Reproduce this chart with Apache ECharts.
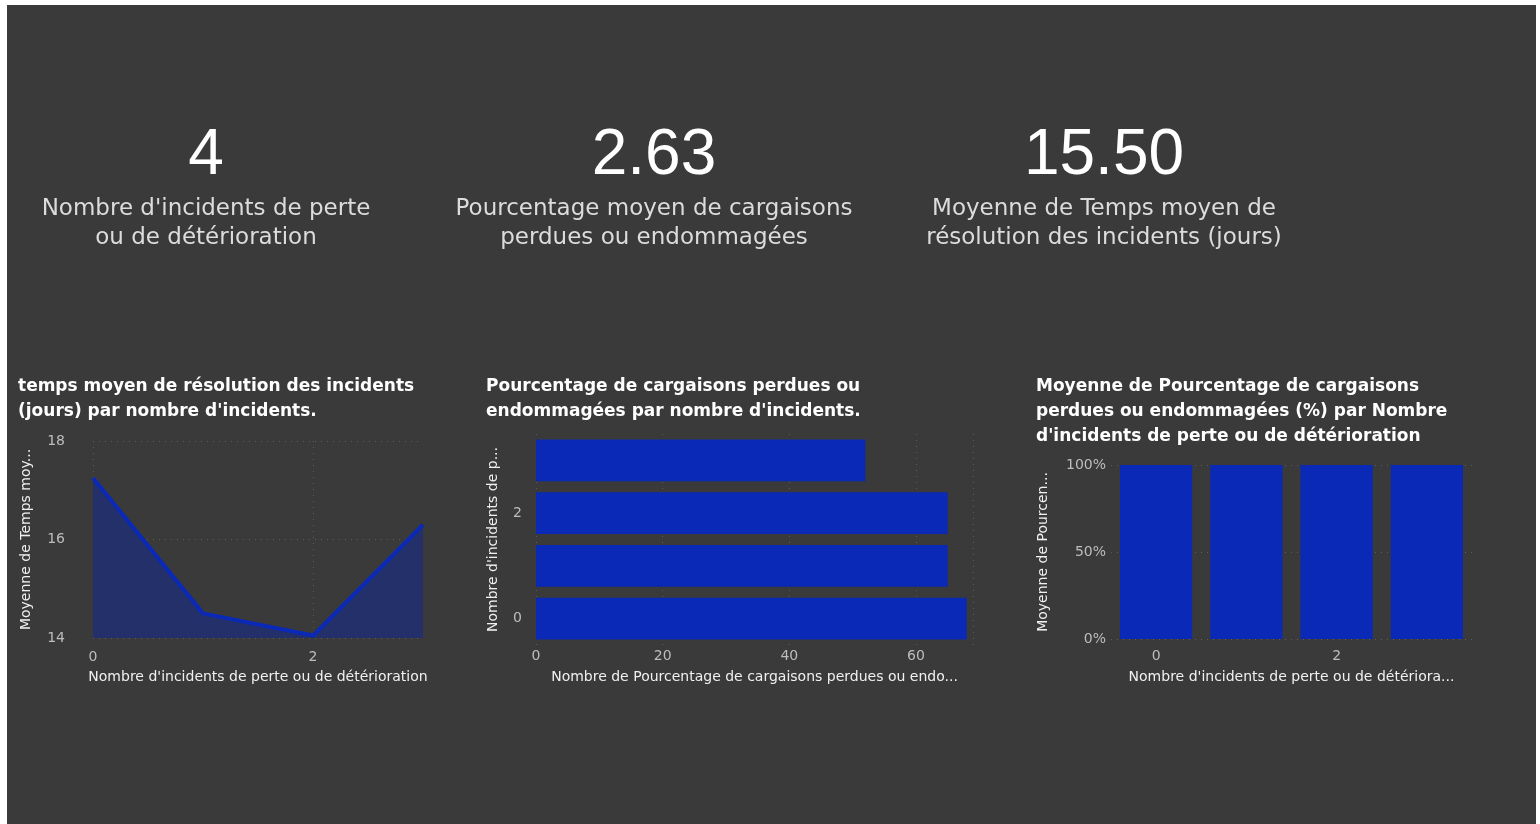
<!DOCTYPE html>
<html>
<head>
<meta charset="utf-8">
<script src="https://cdn.jsdelivr.net/npm/echarts@6/dist/echarts.min.js"></script>
<style>
  body { margin: 0; background: #ffffff; }
  #main { position: absolute; left: 7px; top: 5px; width: 1529px; height: 819px; background: #3a3a3a; }
</style>
</head>
<body>
<div id="main"></div>
<script>
// KPI cards
const kpiValues = ['4', '2.63', '15.50'];
const kpiLabels = [
  "Nombre d'incidents de perte\nou de détérioration",
  'Pourcentage moyen de cargaisons\nperdues ou endommagées',
  'Moyenne de Temps moyen de\nrésolution des incidents (jours)'
];

// shared category axis: number of incidents
const incidentCats = ['0', '1', '2', '3'];

// chart 1: average resolution time (days)
const resolutionDays = [17.25, 14.5, 14.05, 16.3];
// chart 2: count of lost/damaged shipment percentage
const lostCounts = [68, 65, 65, 52];
// chart 3: average lost/damaged percentage
const lostPctAvg = [100, 100, 100, 100];

const NUMFONT = "'Liberation Sans', Arial, sans-serif";
const FONT = "'DejaVu Sans', sans-serif";
const BLUE = '#0a29b6';
const TICK = '#bdbdbd';
const NAME = '#f0f0f0';
const GRIDLINE = { show: true, lineStyle: { color: '#5c5c5c', type: [1, 5], width: 1 } };

const kpiX = [199, 647, 1097];

const chart = echarts.init(document.getElementById('main'));

const graphics = [];
kpiValues.forEach((v, i) => {
  graphics.push({
    type: 'text', x: kpiX[i], y: 151,
    style: { text: v, fill: '#ffffff', font: '64px ' + NUMFONT, textAlign: 'center', textVerticalAlign: 'middle' }
  });
  graphics.push({
    type: 'text', x: kpiX[i], y: 219,
    style: { text: kpiLabels[i], fill: '#dcdcdc', font: '23px ' + FONT, lineHeight: 29, textAlign: 'center', textVerticalAlign: 'middle' }
  });
});

const titleStyle = { color: '#ffffff', fontSize: 17, fontWeight: 'bold', fontFamily: FONT, lineHeight: 25 };
const nameStyle = { color: NAME, fontSize: 14, fontFamily: FONT };
const labelStyle = { color: TICK, fontSize: 14, fontFamily: FONT };

chart.setOption({
  backgroundColor: '#3a3a3a',
  textStyle: { fontFamily: FONT },
  graphic: graphics,
  title: [
    { text: "temps moyen de résolution des incidents\n(jours) par nombre d'incidents.", left: 11, top: 369, padding: 0, textStyle: titleStyle },
    { text: "Pourcentage de cargaisons perdues ou\nendommagées par nombre d'incidents.", left: 479, top: 369, padding: 0, textStyle: titleStyle },
    { text: "Moyenne de Pourcentage de cargaisons\nperdues ou endommagées (%) par Nombre\nd'incidents de perte ou de détérioration", left: 1029, top: 369, padding: 0, textStyle: titleStyle }
  ],
  grid: [
    { left: 86, top: 436, width: 330, height: 197 },
    { left: 529, top: 429, width: 437, height: 211 },
    { left: 1104, top: 460, width: 361, height: 174 }
  ],
  xAxis: [
    {
      gridIndex: 0, type: 'category', data: incidentCats, boundaryGap: false,
      axisLine: { show: false }, axisTick: { show: false },
      axisLabel: Object.assign({ interval: 1, margin: 12 }, labelStyle),
      splitLine: Object.assign({ interval: 1 }, GRIDLINE),
      name: "Nombre d'incidents de perte ou de détérioration", nameLocation: 'middle', nameGap: 32, nameTextStyle: nameStyle
    },
    {
      gridIndex: 1, type: 'value', min: 0, max: 69, interval: 20,
      axisLine: { show: false }, axisTick: { show: false },
      axisLabel: Object.assign({ margin: 4, showMaxLabel: false }, labelStyle),
      splitLine: GRIDLINE,
      name: 'Nombre de Pourcentage de cargaisons perdues ou endo...', nameLocation: 'middle', nameGap: 25, nameTextStyle: nameStyle
    },
    {
      gridIndex: 2, type: 'category', data: incidentCats,
      axisLine: { show: false }, axisTick: { show: false },
      axisLabel: Object.assign({ interval: 1, margin: 10 }, labelStyle),
      splitLine: { show: false },
      name: "Nombre d'incidents de perte ou de détériora...", nameLocation: 'middle', nameGap: 31, nameTextStyle: nameStyle
    }
  ],
  yAxis: [
    {
      gridIndex: 0, type: 'value', min: 14, max: 18, interval: 2,
      axisLine: { show: false }, axisTick: { show: false },
      axisLabel: Object.assign({ margin: 28 }, labelStyle),
      splitLine: GRIDLINE,
      name: 'Moyenne de Temps moy...', nameLocation: 'middle', nameGap: 60, nameTextStyle: nameStyle
    },
    {
      gridIndex: 1, type: 'category', data: incidentCats,
      axisLine: { show: false }, axisTick: { show: false },
      axisLabel: Object.assign({ interval: 1, margin: 14 }, labelStyle),
      splitLine: { show: false },
      name: "Nombre d'incidents de p...", nameLocation: 'middle', nameGap: 36, nameTextStyle: nameStyle
    },
    {
      gridIndex: 2, type: 'value', min: 0, max: 100, interval: 50,
      axisLine: { show: false }, axisTick: { show: false },
      axisLabel: Object.assign({ margin: 5, formatter: '{value}%' }, labelStyle),
      splitLine: GRIDLINE,
      name: 'Moyenne de Pourcen...', nameLocation: 'middle', nameGap: 61, nameTextStyle: nameStyle
    }
  ],
  series: [
    {
      type: 'line', xAxisIndex: 0, yAxisIndex: 0, data: resolutionDays,
      symbol: 'none', lineStyle: { color: BLUE, width: 4 },
      areaStyle: { color: '#23306a', opacity: 1, origin: 'start' }
    },
    {
      type: 'bar', xAxisIndex: 1, yAxisIndex: 1, data: lostCounts,
      itemStyle: { color: BLUE }, barCategoryGap: '21%'
    },
    {
      type: 'bar', xAxisIndex: 2, yAxisIndex: 2, data: lostPctAvg,
      itemStyle: { color: BLUE }, barCategoryGap: '20%'
    }
  ]
});
</script>
</body>
</html>
